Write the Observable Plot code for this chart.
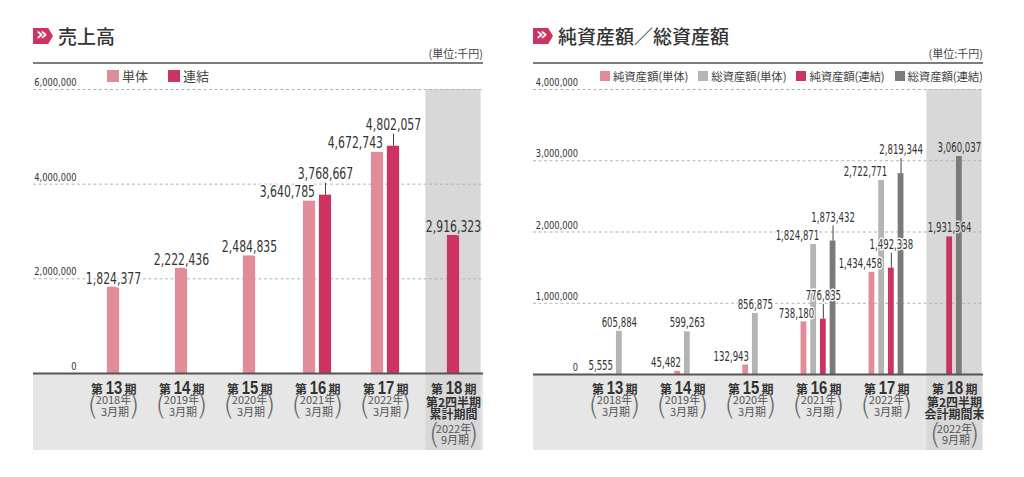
<!DOCTYPE html>
<html>
<head>
<meta charset="utf-8">
<script src="https://cdn.jsdelivr.net/npm/d3@7"></script>
<script src="https://cdn.jsdelivr.net/npm/@observablehq/plot@0.6"></script>
<style>
  html, body { margin: 0; padding: 0; background: #fff; }
  body { width: 1024px; height: 477px; overflow: hidden; position: relative;
         font-family: "Noto Sans CJK JP", "Noto Sans", sans-serif; color: #333; }
  .panel { position: absolute; top: 0; width: 500px; height: 477px; }
  .icon { position: absolute; left: 13px; top: 28px; width: 20px; height: 16px; background: #cc3360;
          clip-path: polygon(0 0, 76% 0, 100% 50%, 76% 100%, 0 100%); }
  .icon span { position: absolute; left: 3px; top: -5px; color: #fff; font: bold 18px/22px "DejaVu Sans", sans-serif; }
  .title { position: absolute; left: 38px; top: 24px; font-size: 19px; line-height: 24px; font-weight: 500; color: #333; white-space: nowrap; }
  .unit { position: absolute; right: 37px; top: 46px; font-size: 11px; line-height: 15px; color: #444; white-space: nowrap; }
  .hr { position: absolute; left: 13px; top: 62px; width: 450px; height: 1.5px; background: #7d7d7d; }
  .chart { position: absolute; left: 0; top: 60px; }
  .legend { position: absolute; top: 68px; display: flex; align-items: center; color: #444; white-space: nowrap; }
  .legend .item { display: flex; align-items: center; }
  .legend .sw { display: inline-block; }
</style>
</head>
<body>
<div id="left" class="panel" style="left:20px"></div>
<div id="right" class="panel" style="left:520px"></div>
<script>
// ---------- data ----------
const periodNums = ["13", "14", "15", "16", "17", "18"];
const years = ["2018年", "2019年", "2020年", "2021年", "2022年", "2022年"];
const months = ["3月期", "3月期", "3月期", "3月期", "3月期", "9月期"];

const salesTitle = "売上高";
const salesSeries = ["単体", "連結"];
const salesTantai = [1824377, 2222436, 2484835, 3640785, 4672743, null];
const salesRenketsu = [null, null, null, 3768667, 4802057, 2916323];
const salesTicks = [0, 2000000, 4000000, 6000000];
const salesLastLines = ["第2四半期", "累計期間"];

const assetTitle = "純資産額／総資産額";
const assetSeries = ["純資産額(単体)", "総資産額(単体)", "純資産額(連結)", "総資産額(連結)"];
const netTantai = [5555, 45482, 132943, 738180, 1434458, null];
const totalTantai = [605884, 599263, 856875, 1824871, 2722771, null];
const netRenketsu = [null, null, null, 776835, 1492338, 1931564];
const totalRenketsu = [null, null, null, 1873432, 2819344, 3060037];
const assetTicks = [0, 1000000, 2000000, 3000000, 4000000];
const assetLastLines = ["第2四半期", "会計期間末"];

const unitText = "(単位:千円)";

// ---------- styles ----------
const COND = '"DejaVu Sans Condensed", "DejaVu Sans", sans-serif';
const JP = '"Noto Sans CJK JP", "Noto Sans", sans-serif';
const NUM = '"Liberation Sans", Arial, sans-serif';
const salesColors = ["#e08d99", "#cc3360"];
const assetColors = ["#e08d99", "#b4b4b4", "#cc3360", "#7a7a7a"];
const BAND = "#e6e6e6", HIGHLIGHT = "#d8d8d8";
const fmt = d3.format(",");

function makeRows(series, values) {
  const rows = [];
  periodNums.forEach((p, i) => {
    const present = series.map((s, k) => ({s, v: values[k][i]})).filter(d => d.v != null);
    present.forEach((d, k) => rows.push({
      period: p, series: d.s, value: d.v, rank: k, n: present.length,
      slot: k - (present.length - 1) / 2
    }));
  });
  return rows;
}

function buildPanel(id, cfg) {
  const root = document.getElementById(id);
  root.insertAdjacentHTML("beforeend",
    `<div class="icon"><span>»</span></div><div class="title">${cfg.title}</div>` +
    `<div class="unit">${unitText}</div><div class="hr"></div>`);

  const rows = makeRows(cfg.series, cfg.values);
  const W = 480, H = 400;
  const step = (W - cfg.ml - cfg.mr) / periodNums.length;
  const barInset = (step - cfg.barW) / 2;
  const bandInL = 13 - cfg.ml;
  const bandInR = (W - cfg.mr) - 463;
  const yMax = cfg.ticks[cfg.ticks.length - 1];
  const last = periodNums[periodNums.length - 1];
  const hlInset = (step - 56) / 2;

  const marks = [];
  marks.push(Plot.rect([0], {y1: () => 0, y2: () => 0, insetTop: 0, insetBottom: -cfg.bandH,
    insetLeft: bandInL, insetRight: bandInR, fill: BAND}));
  marks.push(Plot.barY([last], {x: d => d, y1: () => yMax, y2: () => 0, insetBottom: -cfg.bandH,
    insetLeft: hlInset, insetRight: hlInset, fill: HIGHLIGHT}));
  marks.push(Plot.ruleY(cfg.ticks.filter(t => t > 0), {stroke: "#b3b3b3", strokeWidth: 1,
    strokeDasharray: "3,2.5", insetLeft: bandInL, insetRight: bandInR}));
  for (const [slot, rs] of d3.groups(rows, r => r.slot)) {
    marks.push(Plot.barY(rs, {x: "period", y: "value", fill: "series", dx: slot * cfg.barStep,
      insetLeft: barInset, insetRight: barInset}));
  }
  marks.push(Plot.ruleY([0], {stroke: "#555", strokeWidth: 2, insetLeft: bandInL, insetRight: bandInR}));

  const specRows = rows.map(r => ({...r, spec: cfg.labelSpec(r), halo: r.period === last ? HIGHLIGHT : "#fff"}));
  for (const [key, rs] of d3.groups(specRows, r => JSON.stringify(r.spec) + r.halo)) {
    const s = rs[0].spec;
    if (s.leader) {
      marks.push(Plot.ruleX(rs, {x: "period", y1: "value", y2: "value", dx: s.dx,
        insetTop: -s.leader, stroke: "#444", strokeWidth: 1}));
    }
    marks.push(Plot.text(rs, {x: "period", y: "value", text: d => fmt(d.value), textAnchor: s.anchor,
      dx: s.dx, dy: s.dy, lineAnchor: "middle", fontSize: cfg.labelSize, fontFamily: COND,
      fill: "#333", stroke: rs[0].halo, strokeWidth: 3, paintOrder: "stroke",
      ariaDescription: "sq:" + cfg.labelSqueeze}));
  }

  marks.push(Plot.text(cfg.ticks, {y: d => d, text: d => fmt(d), frameAnchor: "left", textAnchor: "end",
    dx: -0.5, dy: -7, lineAnchor: "middle", fontSize: 11, fontFamily: COND, fill: "#333", ariaDescription: "sq:0.84"}));

  const xl = periodNums.map((p, i) => ({period: p, year: years[i], month: months[i], last: p === last}));
  const reg = xl.filter(d => !d.last), lst = xl.filter(d => d.last);
  const o = cfg.dyShift;
  const common = {x: "period", frameAnchor: "bottom", lineAnchor: "middle", fill: "#333"};
  marks.push(Plot.text(xl, {...common, text: () => "第", dx: -16.5, dy: 16.5 + o, fontSize: 12, fontWeight: "bold", fontFamily: JP}));
  marks.push(Plot.text(xl, {...common, text: "period", dx: 0.5, dy: 15 + o, fontSize: 18.5, fontWeight: "bold", fontFamily: NUM, ariaDescription: "sq:0.8"}));
  marks.push(Plot.text(xl, {...common, text: () => "期", dx: 17, dy: 16.5 + o, fontSize: 12, fontWeight: "bold", fontFamily: JP}));
  const sub = {...common, fill: "#555", fontSize: 11, fontFamily: JP};
  const paren = {...common, fill: "#666", fontSize: 29, fontWeight: 200, fontFamily: '"DejaVu Sans", sans-serif'};
  marks.push(Plot.text(reg, {...sub, text: "year", dy: 27 + o}));
  marks.push(Plot.text(reg, {...sub, text: "month", dx: 1.5, dy: 39 + o}));
  marks.push(Plot.text(reg, {...paren, text: () => "(", dx: -20.5, dy: 32 + o}));
  marks.push(Plot.text(reg, {...paren, text: () => ")", dx: 20.5, dy: 32 + o}));
  cfg.lastLines.forEach((t, k) => {
    marks.push(Plot.text(lst, {...common, text: () => t, dy: 30 + k * 11.5 + o, fontSize: 12, fontWeight: "bold", fontFamily: JP}));
  });
  marks.push(Plot.text(lst, {...sub, text: "year", dy: 56 + o}));
  marks.push(Plot.text(lst, {...sub, text: "month", dx: 1.5, dy: 67 + o}));
  marks.push(Plot.text(lst, {...paren, text: () => "(", dx: -19, dy: 61.5 + o}));
  marks.push(Plot.text(lst, {...paren, text: () => ")", dx: 19.5, dy: 61.5 + o}));

  const svg = Plot.plot({
    width: W, height: H,
    marginTop: 29, marginBottom: cfg.mb, marginLeft: cfg.ml, marginRight: cfg.mr,
    style: {background: "transparent", overflow: "visible"},
    x: {type: "band", domain: periodNums, padding: 0, axis: null},
    y: {domain: [0, yMax], axis: null},
    color: {domain: cfg.series, range: cfg.colors},
    marks
  });
  svg.classList.add("chart");
  root.appendChild(svg);

  // horizontally condense the number texts (they stay real text)
  svg.querySelectorAll('g[aria-description^="sq:"]').forEach(g => {
    const f = +g.getAttribute("aria-description").slice(3);
    g.querySelectorAll("text").forEach(t => {
      const L = t.getComputedTextLength();
      if (L > 0) {
        t.setAttribute("textLength", (L * f).toFixed(2));
        t.setAttribute("lengthAdjust", "spacingAndGlyphs");
      }
    });
  });

  const lg = document.createElement("div");
  lg.className = "legend";
  lg.style.left = cfg.legendLeft + "px";
  lg.style.fontSize = cfg.legendFont + "px";
  lg.style.lineHeight = "16px";
  lg.style.gap = cfg.legendGap + "px";
  lg.style.letterSpacing = cfg.legendLS + "px";
  cfg.series.forEach((s, i) => {
    const it = document.createElement("div");
    it.className = "item";
    it.innerHTML = `<span class="sw" style="width:${cfg.sw}px;height:${cfg.sw}px;background:${cfg.colors[i]};margin-right:3px"></span><span>${s}</span>`;
    lg.appendChild(it);
  });
  root.appendChild(lg);
}

buildPanel("left", {
  title: salesTitle, series: salesSeries, values: [salesTantai, salesRenketsu], colors: salesColors,
  ticks: salesTicks, lastLines: salesLastLines,
  ml: 56.6, mr: 10.6, mb: 87, bandH: 77, barW: 13, barStep: 16, labelSize: 15.5, labelSqueeze: 0.78, dyShift: 0,
  legendLeft: 87, legendFont: 13, legendGap: 20, legendLS: 0, sw: 12,
  labelSpec: r => {
    if (r.n === 1) return {anchor: "middle", dx: 0, dy: -8.5, leader: 0};
    if (r.slot < 0) return {anchor: "end", dx: -2.5, dy: -9, leader: 0};
    return {anchor: "middle", dx: r.slot * 16, dy: -21.5, leader: 12};
  }
});

buildPanel("right", {
  title: assetTitle, series: assetSeries, values: [netTantai, totalTantai, netRenketsu, totalRenketsu], colors: assetColors,
  ticks: assetTicks, lastLines: assetLastLines,
  ml: 58.15, mr: 9.65, mb: 86, bandH: 76, barW: 6.5, barStep: 9.7, labelSize: 14, labelSqueeze: 0.68, dyShift: -1,
  legendLeft: 80, legendFont: 11.5, legendGap: 10, legendLS: -0.2, sw: 10,
  labelSpec: r => {
    const bx = r.slot * 9.7;
    if (r.n === 2) {
      if (r.series === assetSeries[0]) return {anchor: "end", dx: bx + 3.35, dy: -8.5, leader: 0};
      return {anchor: "middle", dx: bx, dy: -9, leader: 0};
    }
    if (r.rank === 0) return {anchor: "end", dx: -4.25, dy: -8.5, leader: 0};
    if (r.rank === 1) return {anchor: "end", dx: 0.75, dy: -8.5, leader: 0};
    return {anchor: "middle", dx: bx, dy: -24, leader: 15};
  }
});
</script>
</body>
</html>
